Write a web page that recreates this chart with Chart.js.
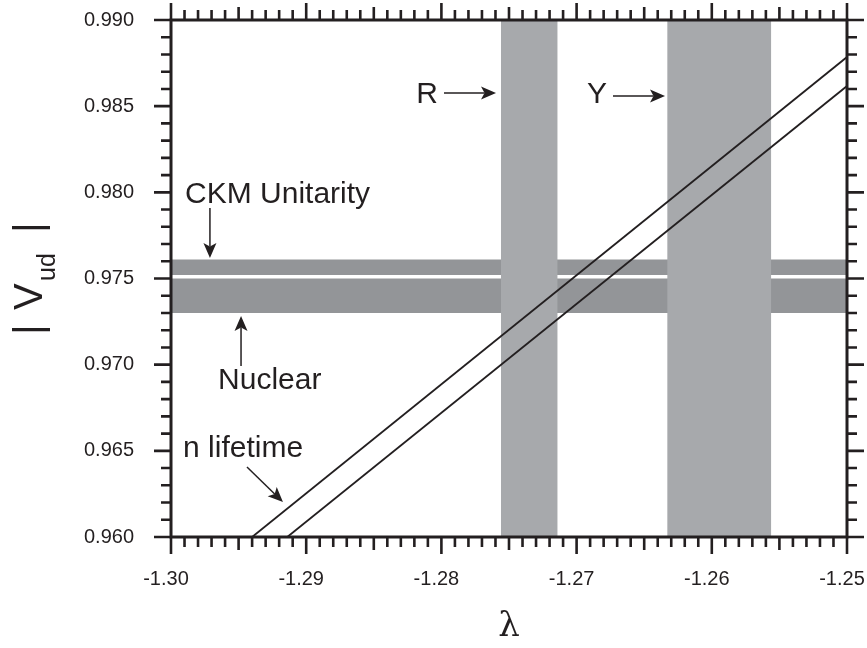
<!DOCTYPE html>
<html>
<head>
<meta charset="utf-8">
<script src="https://cdn.jsdelivr.net/npm/chart.js@4.4.1/dist/chart.umd.min.js"></script>
<style>
  body { margin: 0; background: #fff; }
  #wrap { width: 867px; height: 648px; }
</style>
</head>
<body>
<div id="wrap"><canvas id="chart" width="867" height="648"></canvas></div>
<script>
const ink = '#231f20';
const sans = '"Liberation Sans", Arial, Helvetica, sans-serif';

// axis ranges
const lambdaRange = [-1.30, -1.25];
const vudRange = [0.960, 0.990];

// lambda measurements (vertical bands)
const rBand = [-1.2756, -1.2714];
const yBand = [-1.2633, -1.2556];

// |Vud| bands (horizontal)
const ckmBand = [0.9752, 0.9761];
const nuclearBand = [0.9730, 0.9750];

// neutron lifetime limits, [lambda, |Vud|] end points
const lifetimeUpper = [[-1.2940, 0.960], [-1.25, 0.98785]];
const lifetimeLower = [[-1.2914, 0.960], [-1.25, 0.98617]];

// text labels, anchored in data units
const notes = [
  { text: 'R', x: -1.28025, y: 0.98517, align: 'right' },
  { text: 'Y', x: -1.26775, y: 0.98517, align: 'right' },
  { text: 'CKM Unitarity', x: -1.29896, y: 0.97940, align: 'left' },
  { text: 'Nuclear', x: -1.29652, y: 0.96857, align: 'left' },
  { text: 'n lifetime', x: -1.29911, y: 0.96466, align: 'left' }
];

// arrows: [from, to]
const pointers = [
  [[-1.27981, 0.98576], [-1.27596, 0.98576]],
  [[-1.26731, 0.98559], [-1.26346, 0.98559]],
  [[-1.29712, 0.97909], [-1.29712, 0.97619]],
  [[-1.29482, 0.96992], [-1.29482, 0.97282]],
  [[-1.29438, 0.96406], [-1.29172, 0.96203]]
];

const toPts = arr => arr.map(([x, y]) => ({ x, y }));

function hBand(range) {
  return {
    data: [{ x: lambdaRange[0], y: range[1] }, { x: lambdaRange[1], y: range[1] }],
    fill: { value: range[0] },
    backgroundColor: '#939598',
    borderColor: 'rgba(0,0,0,0)',
    borderWidth: 0,
    pointRadius: 0,
    order: 2
  };
}

function vBand(range) {
  return {
    data: [{ x: range[0], y: vudRange[1] }, { x: range[1], y: vudRange[1] }],
    fill: { value: vudRange[0] },
    backgroundColor: '#a7a9ac',
    borderColor: 'rgba(0,0,0,0)',
    borderWidth: 0,
    pointRadius: 0,
    order: 1
  };
}

function lifetimeLine(pts) {
  return {
    data: toPts(pts),
    borderColor: ink,
    borderWidth: 1.8,
    pointRadius: 0,
    fill: false,
    order: 0
  };
}

function drawArrow(ctx, x0, y0, x1, y1) {
  const ang = Math.atan2(y1 - y0, x1 - x0);
  const L = 15, W = 6.5, notch = 3.5;
  ctx.beginPath();
  ctx.moveTo(x0, y0);
  ctx.lineTo(x1 - (L - notch) * Math.cos(ang), y1 - (L - notch) * Math.sin(ang));
  ctx.stroke();
  ctx.save();
  ctx.translate(x1, y1);
  ctx.rotate(ang);
  ctx.beginPath();
  ctx.moveTo(0, 0);
  ctx.lineTo(-L, -W);
  ctx.lineTo(-L + notch, 0);
  ctx.lineTo(-L, W);
  ctx.closePath();
  ctx.fill();
  ctx.restore();
}

const annotations = {
  id: 'annotations',
  afterDatasetsDraw(chart) {
    const { ctx, scales: { x, y } } = chart;
    ctx.save();
    ctx.fillStyle = ink;
    ctx.strokeStyle = ink;
    ctx.lineWidth = 1.5;
    ctx.font = '30px ' + sans;
    ctx.textBaseline = 'alphabetic';
    notes.forEach(n => {
      ctx.textAlign = n.align;
      ctx.fillText(n.text, x.getPixelForValue(n.x), y.getPixelForValue(n.y));
    });
    pointers.forEach(([a, b]) => {
      drawArrow(ctx, x.getPixelForValue(a[0]), y.getPixelForValue(a[1]),
        x.getPixelForValue(b[0]), y.getPixelForValue(b[1]));
    });
    ctx.restore();
  }
};

// frame with outward ticks on all four sides, plus the |Vud| axis title
const frame = {
  id: 'frame',
  afterDraw(chart) {
    const { ctx, chartArea: a, scales: { x, y } } = chart;
    ctx.save();
    ctx.strokeStyle = ink;
    ctx.lineWidth = 2.6;
    ctx.beginPath();
    for (let i = 0; i <= 50; i++) {
      const px = x.getPixelForValue(lambdaRange[0] + i * 0.001);
      const len = i % 10 === 0 ? 17 : i % 5 === 0 ? 13 : 10;
      ctx.moveTo(px, a.bottom); ctx.lineTo(px, a.bottom + len);
      ctx.moveTo(px, a.top); ctx.lineTo(px, a.top - len);
    }
    for (let i = 0; i <= 30; i++) {
      const py = y.getPixelForValue(vudRange[0] + i * 0.001);
      const len = i % 5 === 0 ? 17 : 10;
      ctx.moveTo(a.left, py); ctx.lineTo(a.left - len, py);
      ctx.moveTo(a.right, py); ctx.lineTo(a.right + len, py);
    }
    ctx.stroke();
    ctx.lineWidth = 3;
    ctx.strokeRect(a.left, a.top, a.right - a.left, a.bottom - a.top);

    // rotated "| Vud |" with subscript
    ctx.fillStyle = ink;
    ctx.translate(42, (a.top + a.bottom) / 2 + 53.5);
    ctx.rotate(-Math.PI / 2);
    ctx.textAlign = 'left';
    ctx.textBaseline = 'alphabetic';
    ctx.font = '40px ' + sans;
    const bar = ctx.measureText('|').width;
    ctx.fillText('|', 2.5 - bar / 2, 0);
    ctx.fillText('V', 22, 0);
    ctx.fillText('|', 104.5 - bar / 2, 0);
    ctx.font = '25px ' + sans;
    ctx.fillText('ud', 51, 13);
    ctx.restore();
  }
};

new Chart(document.getElementById('chart'), {
  type: 'line',
  data: {
    datasets: [
      lifetimeLine(lifetimeUpper),
      lifetimeLine(lifetimeLower),
      vBand(rBand),
      vBand(yBand),
      hBand(ckmBand),
      hBand(nuclearBand)
    ]
  },
  options: {
    responsive: false,
    animation: false,
    events: [],
    layout: { padding: { top: 20, right: 20, left: 0, bottom: 0 } },
    plugins: { legend: { display: false }, tooltip: { enabled: false } },
    scales: {
      x: {
        type: 'linear',
        min: lambdaRange[0],
        max: lambdaRange[1],
        grid: { display: false, drawTicks: false },
        border: { display: false },
        ticks: {
          stepSize: 0.01,
          padding: 30,
          labelOffset: -5,
          maxRotation: 0,
          color: ink,
          font: { family: sans, size: 20 },
          callback: v => v.toFixed(2)
        },
        title: {
          display: true,
          text: 'λ',
          color: ink,
          padding: { top: 0, bottom: 0 },
          font: { family: '"DejaVu Serif", serif', size: 34 }
        },
        afterFit: s => {
          s.height = 111;
          s.paddingLeft = 0;
          s.paddingRight = 0;
        }
      },
      y: {
        min: vudRange[0],
        max: vudRange[1],
        grid: { display: false, drawTicks: false },
        border: { display: false },
        ticks: {
          stepSize: 0.005,
          padding: 37,
          color: ink,
          font: { family: sans, size: 20 },
          callback: v => v.toFixed(3)
        },
        afterFit: s => {
          s.width = 171;
          s.paddingTop = 0;
          s.paddingBottom = 0;
        }
      }
    }
  },
  plugins: [annotations, frame]
});
</script>
</body>
</html>
